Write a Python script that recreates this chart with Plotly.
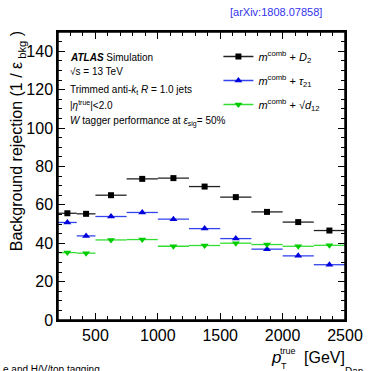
import plotly.graph_objects as go

bin_lo = [200, 350, 500, 750, 1000, 1250, 1500, 1750, 2000, 2250]
bin_hi = [350, 500, 750, 1000, 1250, 1500, 1750, 2000, 2250, 2500]
d2 = [55.6, 55.3, 65.0, 73.5, 73.9, 69.5, 64.0, 56.3, 51.0, 46.6]
tau21 = [50.8, 43.8, 53.9, 56.0, 52.5, 47.6, 42.4, 36.9, 33.4, 28.8]
d12 = [35.1, 34.8, 41.7, 41.9, 38.4, 38.8, 40.0, 39.3, 38.4, 38.9]

centers = [(a + b) / 2 for a, b in zip(bin_lo, bin_hi)]
halfw = [(b - a) / 2 for a, b in zip(bin_lo, bin_hi)]

series = [
    ("<i>m</i><sup>comb</sup> + <i>D</i><sub>2</sub>", d2, "black", "#222222", "square", 6),
    ("<i>m</i><sup>comb</sup> + <i>τ</i><sub>21</sub>", tau21, "#0000dd", "#3344ee", "triangle-up", 7),
    ("<i>m</i><sup>comb</sup> + √<i>d</i><sub>12</sub>", d12, "#00cc00", "#33dd33", "triangle-down", 7),
]

fig = go.Figure()
for i, (name, vals, mc, lc, sym, sz) in enumerate(series):
    fig.add_trace(go.Scatter(
        x=centers, y=vals, mode="markers", showlegend=False,
        marker=dict(symbol=sym, size=sz, color=mc),
        error_x=dict(type="data", array=halfw, color=lc, thickness=1.3, width=0),
    ))
    fig.add_trace(go.Scatter(
        x=[None], y=[None], mode="lines+markers", name=name, legendgroup=f"g{i}",
        marker=dict(symbol=sym, size=sz, color=mc),
        line=dict(color=lc, width=1.3),
    ))

font = "Liberation Sans, Arial, sans-serif"
axis_common = dict(
    showline=True, linecolor="black", linewidth=1.5, mirror="ticks",
    ticks="inside", ticklen=7, tickwidth=1, tickcolor="black",
    showgrid=False, zeroline=False,
    tickfont=dict(size=16, color="black", family=font),
)
fig.update_xaxes(range=[200, 2500], tickvals=[500, 1000, 1500, 2000, 2500],
                 minor=dict(dtick=100, tick0=0, ticks="inside", ticklen=4, tickcolor="black"),
                 **axis_common)
fig.update_yaxes(range=[0, 150], dtick=20,
                 minor=dict(dtick=5, tick0=0, ticks="inside", ticklen=4, tickcolor="black"),
                 **axis_common)

W, H = 375, 371
L, R, T, B = 58, 20, 32, 51
pw, ph = W - L - R, H - T - B
def px(x): return (x - L) / pw
def py(y): return 1 - (y - T) / ph

ann = []
def txt(x, y, s, size=10, color="black", xanchor="left", yanchor="middle", angle=0):
    ann.append(dict(x=px(x), y=py(y), xref="paper", yref="paper", text=s, showarrow=False,
                    xanchor=xanchor, yanchor=yanchor, textangle=angle,
                    font=dict(size=size, color=color, family=font)))

txt(68, 57, "<b><i>ATLAS</i></b> Simulation")
txt(68, 72, "√s = 13 TeV")
txt(68, 90, "Trimmed anti-<i>k</i><sub>t</sub> <i>R</i> = 1.0 jets")
txt(68, 105, "|<i>η</i><sup>true</sup>|<2.0")
txt(68, 121, "<i>W</i> tagger performance at <i>ε</i><sub>sig</sub>= 50%")
txt(333, 12, "[arXiv:1808.07858]", size=11, color="#3333ee", xanchor="right")
# x-axis title: p_T^true [GeV] with stacked sub/superscript
txt(276, 357, "<i>p</i>", size=17)
txt(286, 351, "true", size=9)
txt(287, 366, "T", size=9)
txt(311, 357, "[GeV]", size=16)
txt(5, 29, "Background rejection (1 / ε<sub> bkg</sub> )", size=16, xanchor="left", yanchor="top", angle=-90)
txt(-1, 369, "e and H/V/top tagging", size=10)
txt(353, 371, "Dan", size=10)

fig.update_layout(
    width=W, height=H,
    margin=dict(l=L, r=R, t=T, b=B),
    paper_bgcolor="white", plot_bgcolor="white",
    font=dict(family=font, color="black"),
    annotations=ann,
    shapes=[dict(type="rect", xref="paper", yref="paper", x0=0, x1=1, y0=0, y1=1,
                 line=dict(color="black", width=1.5))],
    legend=dict(x=px(224), y=py(42), xanchor="left", yanchor="top",
                bgcolor="rgba(0,0,0,0)", font=dict(size=11, family=font),
                itemwidth=30, tracegroupgap=5),
)
fig.write_html("out.html", config={"displayModeBar": False},
               post_script="document.body.style.margin='0';")
